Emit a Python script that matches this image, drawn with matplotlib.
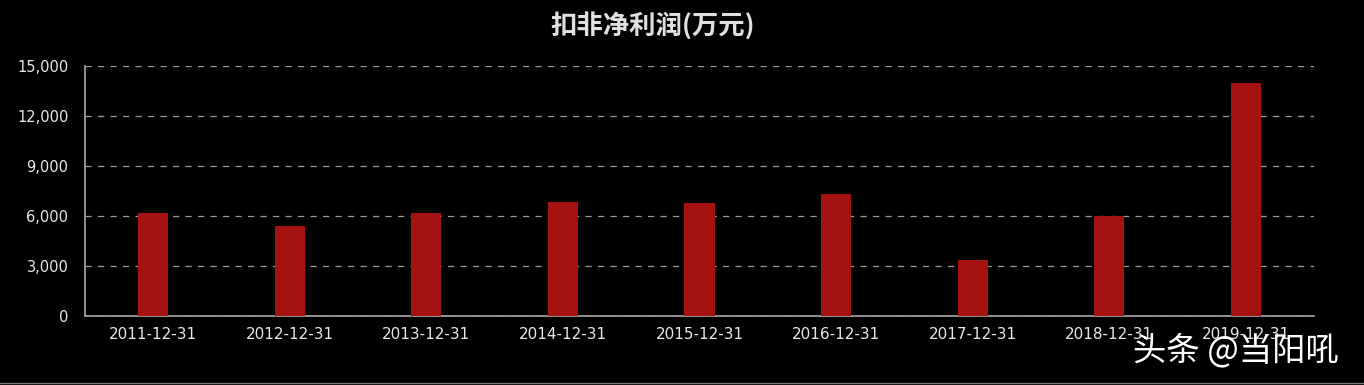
import matplotlib
matplotlib.use("Agg")
import matplotlib.pyplot as plt
from matplotlib.ticker import FuncFormatter

plt.rcParams['font.family'] = ['Noto Sans CJK SC', 'DejaVu Sans']

categories = ["2011-12-31", "2012-12-31", "2013-12-31", "2014-12-31", "2015-12-31",
              "2016-12-31", "2017-12-31", "2018-12-31", "2019-12-31"]
values = [6180, 5400, 6180, 6840, 6780, 7320, 3360, 5990, 14000]
yticks = [0, 3000, 6000, 9000, 12000, 15000]
title = "扣非净利润(万元)"
watermark = "头条 @当阳吼"

fig = plt.figure(figsize=(13.64, 3.85), dpi=100, facecolor='black')
ax = fig.add_axes([85/1364, 1-316/385, (1314-85)/1364, 250/385], facecolor='black')

x = list(range(len(categories)))
ax.bar(x, values, width=0.22, color='#A51212', zorder=3)
ax.set_xlim(-0.5, len(categories)-0.5)
ax.set_ylim(0, 15000)
ax.set_yticks(yticks)
ax.yaxis.set_major_formatter(FuncFormatter(lambda v, p: f"{int(v):,}"))
ax.set_xticks(x)
ax.set_xticklabels(categories)
ax.grid(axis='y', color='#9a9a9a', linestyle=(0, (5, 5)), linewidth=0.9, zorder=1)
for s in ['top', 'right']:
    ax.spines[s].set_visible(False)
for s in ['left', 'bottom']:
    ax.spines[s].set_color('#aaaaaa')
    ax.spines[s].set_linewidth(1.2)
ax.tick_params(axis='both', colors='#e8e8e8', labelsize=10.5, length=0, pad=12)
ax.tick_params(axis='x', pad=8, labelsize=11)
for lbl in ax.get_xticklabels() + ax.get_yticklabels():
    lbl.set_family(['DejaVu Sans'])

fig.text(653/1364, 1-26/385, title, color='#e0e0e0', fontsize=19, fontweight='bold',
         ha='center', va='center')
fig.text(1133/1364, 1-351/385, watermark, color='white', fontsize=24,
         ha='left', va='center')
fig.add_artist(plt.Line2D([0, 1], [1-383/385, 1-383/385], color='#777777', linewidth=1))

fig.savefig("out.png", dpi=100, facecolor='black')
